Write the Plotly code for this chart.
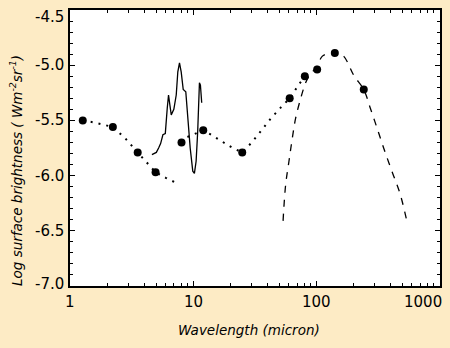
import numpy as np
import plotly.graph_objects as go

# Photometry points: wavelength (micron), log surface brightness
obs_wl = [1.27, 2.23, 3.55, 4.96, 8.06, 12.1, 25.1, 61, 81, 102, 142, 244]
obs_lb = [-5.50, -5.56, -5.79, -5.97, -5.70, -5.59, -5.79, -5.30, -5.10, -5.04, -4.89, -5.22]

# Mid-IR spectrum
spec_wl = [4.63, 5.03, 5.25, 5.45, 5.69, 5.95, 6.17, 6.32, 6.48, 6.65, 6.98, 7.30,
           7.52, 7.76, 8.01, 8.32, 8.73, 9.06, 9.48, 9.95, 10.26, 10.59, 10.91,
           11.27, 11.48, 11.76]
spec_lb = [-5.81, -5.79, -5.75, -5.71, -5.63, -5.62, -5.39, -5.27, -5.36, -5.45,
           -5.40, -5.27, -5.06, -4.98, -5.06, -5.22, -5.24, -5.48, -5.75, -5.96,
           -5.98, -5.87, -5.60, -5.16, -5.18, -5.34]

# Stellar model (near-IR) and dust model (mid/far-IR), dotted
star_wl = [1.27, 1.6, 2.23, 2.8, 3.55, 4.2, 4.96, 6.0, 7.1]
star_lb = [-5.50, -5.52, -5.56, -5.66, -5.79, -5.88, -5.97, -6.02, -6.06]
dust_wl = [9.0, 10.5, 12.1, 14, 17, 21, 25.1, 30, 36, 43, 52, 61, 72, 81]
dust_lb = [-5.65, -5.62, -5.59, -5.63, -5.69, -5.75, -5.79, -5.70, -5.59, -5.48,
           -5.38, -5.30, -5.18, -5.10]

# Cold dust emission, dashed
cold_wl = [53.9, 56.6, 60.2, 64.1, 68.2, 75, 82.2, 88.5, 102, 112, 135, 142, 168,
           202, 244, 276, 313, 354, 413, 483, 556]
cold_lb = [-6.41, -6.08, -5.87, -5.66, -5.48, -5.30, -5.16, -5.09, -5.01, -4.92,
           -4.88, -4.87, -4.92, -5.09, -5.22, -5.39, -5.57, -5.75, -5.96, -6.17, -6.45]

x_ticks = [1, 10, 100, 1000]
x_labels = ["1", "10", "100", "1000"]
y_ticks = [-7.0, -6.5, -6.0, -5.5, -5.0, -4.5]
y_labels = ["-7.0", "-6.5", "-6.0", "-5.5", "-5.0", "-4.5"]

bg = "#FDEBC5"
ink = "#000000"

fig = go.Figure()
fig.add_trace(go.Scatter(x=star_wl, y=star_lb, mode="lines",
                         line=dict(color=ink, width=2, dash="2px,6px")))
fig.add_trace(go.Scatter(x=dust_wl, y=dust_lb, mode="lines",
                         line=dict(color=ink, width=2, dash="2px,6px")))
fig.add_trace(go.Scatter(x=cold_wl, y=cold_lb, mode="lines", line_shape="spline",
                         line=dict(color=ink, width=1.3, dash="7px,7px")))
fig.add_trace(go.Scatter(x=spec_wl, y=spec_lb, mode="lines",
                         line=dict(color=ink, width=1.3)))
fig.add_trace(go.Scatter(x=obs_wl, y=obs_lb, mode="markers",
                         marker=dict(color=ink, size=8)))

minor_x = [m * d for d in (1, 10, 100, 1000) for m in range(2, 10) if m * d < 1020]
minor_y = [round(v, 1) for v in np.arange(-7.0, -4.45, 0.1)]

axis_common = dict(showline=True, linecolor=ink, linewidth=1.5, mirror="allticks",
                   ticks="inside", ticklen=5, tickcolor=ink, tickwidth=1,
                   showgrid=False, zeroline=False, showticklabels=False)

fig.update_xaxes(type="log", range=[0, 3.007], tickmode="array", tickvals=x_ticks,
                 minor=dict(tickmode="array", tickvals=minor_x, ticks="inside",
                            ticklen=3, tickcolor=ink, showgrid=False),
                 **axis_common)
fig.update_yaxes(range=[-7.0, -4.5], tickmode="array", tickvals=y_ticks,
                 minor=dict(tickmode="array", tickvals=minor_y, ticks="inside",
                            ticklen=3, tickcolor=ink, showgrid=False),
                 **axis_common)

tick_font = dict(family="DejaVu Sans", size=15, color=ink)
annotations = []
for i, (v, t) in enumerate(zip(x_ticks, x_labels)):
    shift = -16 if i == len(x_ticks) - 1 else 0
    annotations.append(dict(x=np.log10(v), y=0, xref="x", yref="paper", text=t,
                            showarrow=False, xanchor="center", yanchor="top",
                            yshift=-5, xshift=shift, font=tick_font))
for i, (v, t) in enumerate(zip(y_ticks, y_labels)):
    shift = 0
    if i == 0:
        shift = 2
    elif i == len(y_ticks) - 1:
        shift = -7
    annotations.append(dict(x=0, y=v, xref="paper", yref="y", text=t,
                            showarrow=False, xanchor="right", yanchor="middle",
                            xshift=-4, yshift=shift, font=tick_font))

title_font = dict(family="DejaVu Sans", size=13.5, color=ink)
annotations.append(dict(x=0.5, y=0, xref="paper", yref="paper",
                        text="<i>Wavelength (micron)</i>", showarrow=False,
                        xanchor="center", yanchor="middle", yshift=-44,
                        xshift=-6, font=title_font))
annotations.append(dict(x=0, y=0.5, xref="paper", yref="paper",
                        text="<i>Log surface brightness ( Wm<sup>-2</sup>sr<sup>-1</sup>)</i>",
                        showarrow=False, textangle=-90, xanchor="center",
                        yanchor="middle", xshift=-54, yshift=-23, font=title_font))

fig.update_layout(width=450, height=348, margin=dict(l=70, r=8, t=8, b=62),
                  paper_bgcolor=bg, plot_bgcolor="#FFFFFF", showlegend=False,
                  annotations=annotations)

fig.write_html("out.html")
